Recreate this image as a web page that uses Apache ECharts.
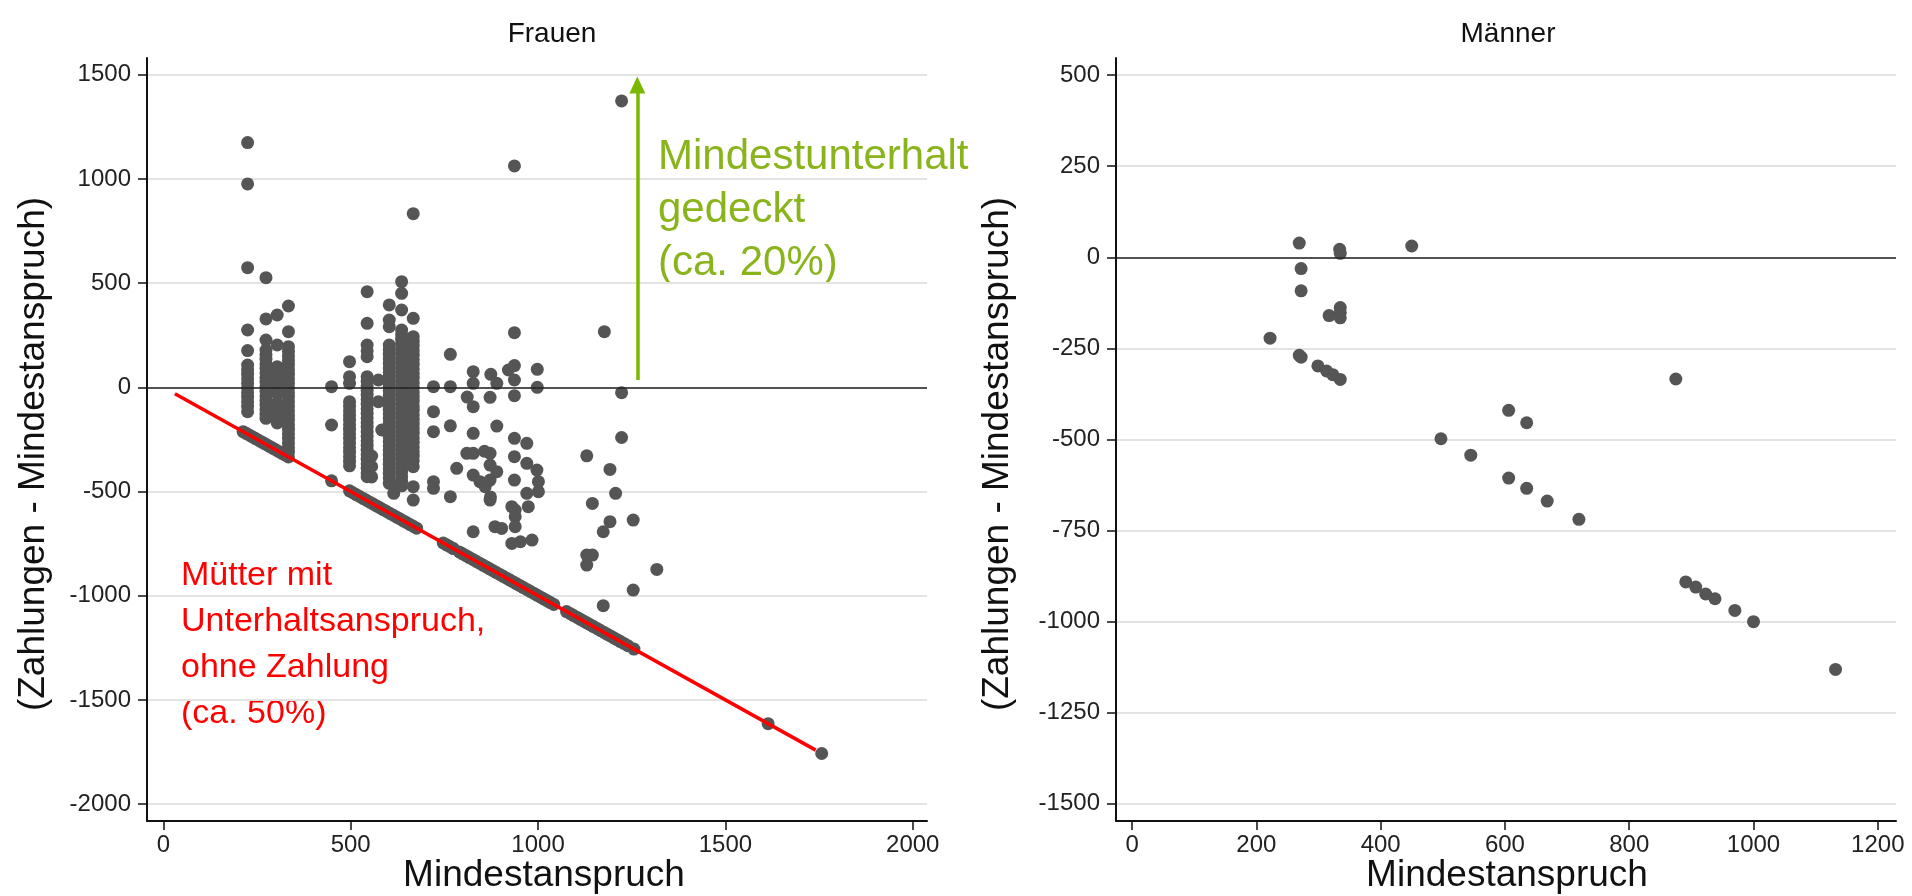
<!DOCTYPE html>
<html>
<head>
<meta charset="utf-8">
<script src="https://cdn.jsdelivr.net/npm/echarts@6/dist/echarts.min.js"></script>
<style>
html,body{margin:0;padding:0;background:#fff;}
#chart{width:1912px;height:896px;}
</style>
</head>
<body>
<div id="chart"></div>
<script>
// ---------- DATA ----------
const frauenXTicks = [0, 500, 1000, 1500, 2000];
const frauenYTicks = [-2000, -1500, -1000, -500, 0, 500, 1000, 1500];
const maennerXTicks = [0, 200, 400, 600, 800, 1000, 1200];
const maennerYTicks = [-1500, -1250, -1000, -750, -500, -250, 0, 250, 500];

// Frauen: vertical stacks of points [x, [y values]]
const frauenStacks = [
  [225, [1174, 976, 574, 275, 176, 107, 85, 63, 41, 19, -3, -25, -47, -69, -91, -117]],
  [274, [526, 328, 227, 179, 157, 135, 113, 91, 69, 47, 25, 3, -19, -41, -63, -85, -107, -129, -149]],
  [304, [347, 203, 99, 77, 55, 33, 11, -11, -31, -75, -97, -119, -149, -171]],
  [334, [390, 267, 195, 173, 151, 129, 107, 85, 63, 41, 19, -3, -25, -47, -69, -91, -113, -135, -157, -179, -201, -223, -245, -267, -289, -311]],
  [497, [123, 51, 19, -69, -91, -113, -135, -157, -179, -201, -223, -245, -267, -289, -311, -333, -355, -377]],
  [544, [459, 307, 203, 175, 147, 51, 29, 7, -15, -37, -59, -81, -103, -125, -147, -169, -191, -213, -235, -257, -279, -301, -323, -345, -367, -389, -411, -429]],
  [603, [395, 323, 291, 203, 181, 159, 137, 115, 93, 71, 49, 27, 5, -17, -39, -61, -83, -105, -127, -149, -171, -193, -215, -237, -259, -281, -303, -325, -347, -369, -391, -413, -435, -461]],
  [636, [507, 451, 371, 275, 253, 231, 209, 187, 165, 143, 121, 99, 77, 55, 33, 11, -11, -33, -55, -77, -99, -121, -143, -165, -187, -209, -231, -253, -275, -297, -319, -341, -363, -385, -407, -429, -451, -473]],
  [667, [833, 331, 243, 220, 198, 176, 154, 132, 110, 88, 66, 44, 22, 0, -22, -44, -66, -88, -110, -132, -154, -176, -198, -220, -242, -264, -286, -308, -330, -352, -381, -477, -541]]
];

// Frauen: single points [x, y]
const frauenSingles = [
  [449, 3], [449, -181], [556, -330], [556, -380], [556, -430], [574, 35], [574, -69], [583, -205],
  [615, -470], [615, -509], [721, 3], [721, -117], [721, -213], [721, -453], [721, -485],
  [766, 158], [766, 3], [766, -185], [766, -525], [783, -389],
  [827, 75], [827, 19], [811, -47], [827, -93], [827, -221], [810, -317], [827, -317], [827, -421],
  [845, -453], [859, -477], [872, -541], [827, -693], [874, 62], [872, -48], [890, 19], [890, -186],
  [872, -317], [872, -373], [890, -405], [872, -445], [857, -307], [873, -526], [921, 83], [937, 104],
  [937, 262], [937, 35], [937, -40], [937, -245], [970, -269], [937, -333], [970, -365], [997, -397],
  [1001, -453], [1001, -501], [970, -509], [974, -573], [937, -445], [930, -573], [939, -589],
  [939, -621], [939, -669], [930, -749], [953, -741], [984, -733], [885, -669], [903, -677],
  [998, 86], [998, 0], [937, 1062],
  [1223, 1374], [1177, 267], [1223, -26], [1223, -241], [1130, -329], [1192, -394], [1207, -509],
  [1145, -557], [1254, -637], [1192, -645], [1174, -693], [1130, -805], [1145, -805], [1130, -853],
  [1317, -874], [1254, -973], [1174, -1048]
];

// Frauen: no payment at all (Zahlung 0)
const frauenNoPay = [
  [213, -213], [221, -221], [229, -229], [237, -237], [245, -245], [253, -253], [261, -261], [269, -269],
  [277, -277], [285, -285], [293, -293], [301, -301], [309, -309], [317, -317], [325, -325], [334, -334],
  [449, -449],
  [497, -497], [506, -506], [515, -515], [524, -524], [533, -533], [542, -542], [551, -551], [560, -560],
  [569, -569], [578, -578], [587, -587], [596, -596], [605, -605], [614, -614], [623, -623], [632, -632],
  [641, -641], [650, -650], [659, -659], [668, -668], [676, -676],
  [747, -747], [756, -756], [765, -765], [774, -774],
  [790, -790], [799, -799], [808, -808], [817, -817], [826, -826], [835, -835], [844, -844], [853, -853],
  [862, -862], [871, -871], [880, -880], [889, -889], [898, -898], [907, -907], [916, -916], [925, -925],
  [934, -934], [943, -943], [952, -952], [961, -961], [970, -970], [979, -979], [988, -988], [997, -997],
  [1006, -1006], [1015, -1015], [1024, -1024], [1033, -1033], [1042, -1042],
  [1076, -1076], [1085, -1085], [1094, -1094], [1103, -1103], [1112, -1112], [1121, -1121], [1130, -1130],
  [1139, -1139], [1148, -1148], [1157, -1157], [1166, -1166], [1175, -1175], [1184, -1184], [1193, -1193],
  [1202, -1202], [1211, -1211], [1220, -1220], [1229, -1229], [1240, -1240], [1256, -1256],
  [1614, -1614], [1757, -1757]
];

// Männer
const maennerPoints = [
  [269, 39], [272, -31], [272, -92], [334, 22], [335, 11], [450, 31], [317, -160], [335, -138],
  [335, -152], [335, -166], [222, -222], [269, -269], [272, -274], [299, -298], [313, -312],
  [323, -322], [335, -335], [606, -420], [635, -454], [497, -498], [545, -543], [606, -606],
  [635, -634], [668, -669], [719, -719], [875, -334], [891, -891], [907, -905], [923, -924],
  [938, -937], [970, -969], [1000, -1000], [1132, -1131]
];

// Annotation lines (data coordinates)
const redLine = [[31, -31], [1741, -1741]];
const greenArrow = [[1265, 35], [1265, 1450]];

// ---------- BUILD ----------
const frauenData = [];
frauenStacks.forEach(function (s) { s[1].forEach(function (y) { frauenData.push([s[0], y]); }); });
frauenSingles.forEach(function (p) { frauenData.push(p); });
frauenNoPay.forEach(function (p) { frauenData.push(p); });

const FONT = "'Liberation Sans', Arial, Helvetica, sans-serif";
const TXT = '#111';
const GRID = '#e3e3e3';
const DOT = '#555555';
const plain = function (v) { return String(v); };

function xAxisOf(idx, min, max, ticks) {
  return {
    type: 'value', gridIndex: idx, min: min, max: max,
    axisLine: { show: true, onZero: false, lineStyle: { color: TXT, width: 2 } },
    axisTick: { show: true, length: 9, customValues: ticks, lineStyle: { color: TXT, width: 1.5 } },
    axisLabel: { customValues: ticks, formatter: plain, fontSize: 24, color: '#222', margin: 12, fontFamily: FONT },
    splitLine: { show: false }
  };
}
function yAxisOf(idx, min, max, ticks) {
  return {
    type: 'value', gridIndex: idx, min: min, max: max,
    axisLine: { show: true, onZero: false, lineStyle: { color: TXT, width: 2 } },
    axisTick: { show: true, length: 9, customValues: ticks, lineStyle: { color: TXT, width: 1.5 } },
    axisLabel: { customValues: ticks, formatter: plain, fontSize: 24, color: '#222', margin: 16, fontFamily: FONT },
    splitLine: { show: true, lineStyle: { color: GRID, width: 2 } }
  };
}

const zeroLine = {
  silent: true, symbol: ['none', 'none'], label: { show: false },
  lineStyle: { color: '#222', width: 1.6, type: 'solid' },
  emphasis: { disabled: true },
  data: [{ yAxis: 0 }]
};

function txt(text, x, y, size, color, extra) {
  const st = { text: text, font: size + 'px ' + FONT, fill: color, align: 'center', verticalAlign: 'middle' };
  if (extra) { for (const k in extra) st[k] = extra[k]; }
  return { type: 'text', x: x, y: y, silent: true, style: st };
}

const option = {
  animation: false,
  backgroundColor: '#fff',
  textStyle: { fontFamily: FONT },
  grid: [
    { left: 147, top: 58, width: 780, height: 763, containLabel: false, outerBoundsMode: 'none' },
    { left: 1116, top: 58, width: 780, height: 763, containLabel: false, outerBoundsMode: 'none' }
  ],
  xAxis: [
    xAxisOf(0, -43.5, 2038, frauenXTicks),
    xAxisOf(1, -25.9, 1229.3, maennerXTicks)
  ],
  yAxis: [
    yAxisOf(0, -2081, 1580, frauenYTicks),
    yAxisOf(1, -1547, 547, maennerYTicks)
  ],
  series: [
    { type: 'scatter', xAxisIndex: 0, yAxisIndex: 0, data: [], z: 1, markLine: zeroLine },
    { type: 'scatter', xAxisIndex: 1, yAxisIndex: 1, data: [], z: 1, markLine: zeroLine },
    {
      type: 'scatter', xAxisIndex: 0, yAxisIndex: 0, data: frauenData, z: 2,
      symbolSize: 13, itemStyle: { color: DOT, opacity: 1 }, silent: true
    },
    {
      type: 'scatter', xAxisIndex: 1, yAxisIndex: 1, data: maennerPoints, z: 2,
      symbolSize: 13, itemStyle: { color: DOT, opacity: 1 }, silent: true
    },
    {
      type: 'scatter', xAxisIndex: 0, yAxisIndex: 0, data: [], z: 3,
      markLine: {
        silent: true, label: { show: false }, emphasis: { disabled: true },
        symbol: ['none', 'none'],
        data: [
          [
            { coord: redLine[0], lineStyle: { color: '#ff0000', width: 3.5, type: 'solid' } },
            { coord: redLine[1] }
          ],
          [
            { coord: greenArrow[0], symbol: 'none', lineStyle: { color: '#7ab800', width: 3.5, type: 'solid' } },
            { coord: greenArrow[1], symbol: 'triangle', symbolSize: [16, 17] }
          ]
        ]
      }
    }
  ],
  graphic: [
    txt('Frauen', 552, 34, 28, TXT),
    txt('Männer', 1508, 34, 28, TXT),
    txt('Mindestanspruch', 544, 876, 37, TXT),
    txt('Mindestanspruch', 1507, 876, 37, TXT),
    Object.assign(txt('(Zahlungen - Mindestanspruch)', 34, 454, 37, TXT), { rotation: Math.PI / 2 }),
    Object.assign(txt('(Zahlungen - Mindestanspruch)', 998, 454, 37, TXT), { rotation: Math.PI / 2 }),
    { type: 'text', x: 658, y: 131, silent: true,
      style: { text: 'Mindestunterhalt\ngedeckt\n(ca. 20%)', font: '42px ' + FONT, lineHeight: 53,
               fill: '#8ab41c', align: 'left', verticalAlign: 'top' } },
    { type: 'text', x: 181, y: 553, silent: true,
      style: { text: 'Mütter mit\nUnterhaltsanspruch,\nohne Zahlung\n(ca. 50%)', font: '34px ' + FONT, lineHeight: 46,
               fill: '#ff0000', align: 'left', verticalAlign: 'top' } }
  ]
};

const chart = echarts.init(document.getElementById('chart'), null, { renderer: 'canvas' });
chart.setOption(option);
</script>
</body>
</html>
